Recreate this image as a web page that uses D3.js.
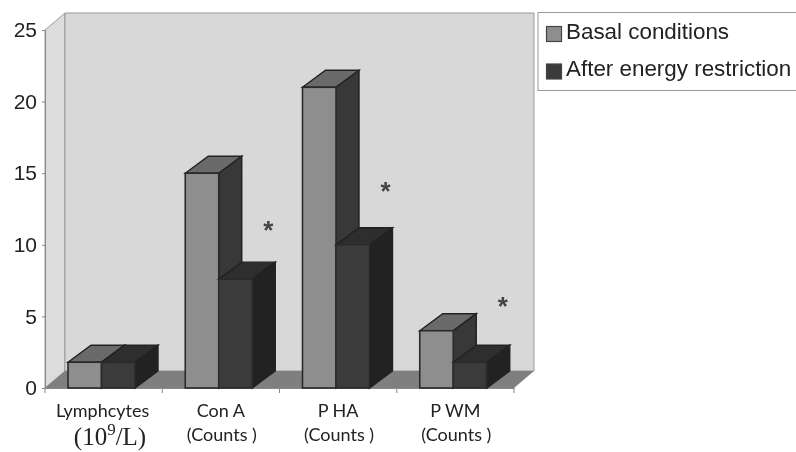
<!DOCTYPE html>
<html>
<head>
<meta charset="utf-8">
<script src="https://cdn.jsdelivr.net/npm/d3@7"></script>
<style>
  html, body { margin: 0; padding: 0; background: #fff; }
  svg { display: block; }
</style>
</head>
<body>
<svg></svg>
<script>
const width = 796;
const height = 452;

const categories = ['Lymphcytes', 'Con A', 'P HA', 'P WM'];
const subLabels = ['', '(Counts )', '(Counts )', '(Counts )'];
const basal = [1.8, 15, 21, 4];
const restricted = [1.8, 7.6, 10, 1.8];
const starValues = [null, 11.1, 13.8, 5.8];
const yTicks = [0, 5, 10, 15, 20, 25];
const seriesNames = ['Basal conditions', 'After energy restriction'];

const svg = d3.select('svg')
  .attr('width', width)
  .attr('height', height);

const defs = svg.append('defs');
defs.append('filter')
  .attr('id', 'scan')
  .append('feGaussianBlur')
  .attr('stdDeviation', 0.55);

const root = svg.append('g').attr('filter', 'url(#scan)');

const x = d3.scaleBand().domain(categories).range([45, 514]);
const y = d3.scaleLinear().domain([0, 25]).range([388, 30]);

// depth of the fake 3d box
const wallDx = 20, wallDy = 17;
const barDx = 23, barDy = 17;
const barWidth = 33.5, barInset = 23;

const poly = pts => pts.map(p => p.join(',')).join(' ');

// back wall and side wall
root.append('polygon')
  .attr('points', poly([[45, y(25)], [45 + wallDx, y(25) - wallDy], [45 + wallDx, y(0) - wallDy], [45, y(0)]]))
  .attr('fill', '#dcdcdc').attr('stroke', '#999').attr('stroke-width', 1);
root.append('polygon')
  .attr('points', poly([[45 + wallDx, y(25) - wallDy], [514 + wallDx, y(25) - wallDy], [514 + wallDx, y(0) - wallDy], [45 + wallDx, y(0) - wallDy]]))
  .attr('fill', '#d8d8d8').attr('stroke', '#999').attr('stroke-width', 1);

// floor
root.append('polygon')
  .attr('points', poly([[45, y(0)], [45 + wallDx, y(0) - wallDy], [514 + wallDx, y(0) - wallDy], [514, y(0)]]))
  .attr('fill', '#7f7f7f');

// axes
const yAxis = d3.axisLeft(y).tickValues(yTicks).tickSize(3).tickPadding(5);
const yG = root.append('g').attr('transform', 'translate(45,0)').call(yAxis);
yG.select('.domain').attr('stroke', '#888');
yG.selectAll('.tick line').attr('stroke', '#888');
yG.selectAll('text')
  .attr('font-family', '"Liberation Sans", Arial, sans-serif')
  .attr('font-size', 21)
  .attr('fill', '#222');

const xAxis = d3.axisBottom(x).tickValues([]).tickSizeOuter(0);
const xG = root.append('g').attr('transform', 'translate(0,388)').call(xAxis);
xG.select('.domain').attr('stroke', '#888');
xG.selectAll('.sep')
  .data(categories.concat(['end']))
  .enter().append('line')
  .attr('class', 'sep')
  .attr('x1', (d, i) => 45 + i * x.bandwidth())
  .attr('x2', (d, i) => 45 + i * x.bandwidth())
  .attr('y1', 0).attr('y2', 5)
  .attr('stroke', '#888');

function drawBar(left, value, front, top, side) {
  const g = root.append('g');
  const t = y(value), b = y(0), r = left + barWidth;
  g.append('polygon')
    .attr('points', poly([[left, t], [left + barDx, t - barDy], [r + barDx, t - barDy], [r, t]]))
    .attr('fill', top).attr('stroke', '#222').attr('stroke-width', 1.4);
  g.append('polygon')
    .attr('points', poly([[r, t], [r + barDx, t - barDy], [r + barDx, b - barDy], [r, b]]))
    .attr('fill', side).attr('stroke', '#222').attr('stroke-width', 1.4);
  g.append('rect')
    .attr('x', left).attr('y', t).attr('width', barWidth).attr('height', b - t)
    .attr('fill', front).attr('stroke', '#2b2b2b').attr('stroke-width', 1.6);
}

categories.forEach((c, i) => {
  const left = x(c) + barInset;
  drawBar(left, basal[i], '#8e8e8e', '#6a6a6a', '#383838');
  drawBar(left + barWidth, restricted[i], '#3a3a3a', '#2d2d2d', '#242424');
});

// significance stars
root.selectAll('.star')
  .data(categories.filter((c, i) => starValues[i] !== null))
  .enter().append('text')
  .attr('class', 'star')
  .attr('x', c => x(c) + 106)
  .attr('y', c => y(starValues[categories.indexOf(c)]) + 10)
  .attr('text-anchor', 'middle')
  .attr('font-family', '"Liberation Sans", Arial, sans-serif')
  .attr('font-size', 26)
  .attr('font-weight', 'bold')
  .attr('fill', '#444')
  .text('*');

// category labels
root.selectAll('.cat')
  .data(categories)
  .enter().append('text')
  .attr('class', 'cat')
  .attr('x', c => x(c) + x.bandwidth() / 2 + (c === 'Lymphcytes' ? -1 : 0))
  .attr('y', 417)
  .attr('text-anchor', 'middle')
  .attr('font-family', 'Lato, sans-serif')
  .attr('font-size', 18)
  .attr('fill', '#222')
  .text(c => c);

root.selectAll('.sub')
  .data(categories.filter((c, i) => subLabels[i]))
  .enter().append('text')
  .attr('class', 'sub')
  .attr('x', c => x(c) + x.bandwidth() / 2 + 1)
  .attr('y', 441)
  .attr('text-anchor', 'middle')
  .attr('font-family', 'Lato, sans-serif')
  .attr('font-size', 18)
  .attr('fill', '#222')
  .text(c => subLabels[categories.indexOf(c)]);

const unit = root.append('text')
  .attr('x', 110)
  .attr('y', 445)
  .attr('text-anchor', 'middle')
  .attr('font-family', '"Liberation Serif", serif')
  .attr('font-size', 25)
  .attr('fill', '#222');
unit.append('tspan').text('(10');
unit.append('tspan').attr('dy', -10).attr('font-size', 17).text('9');
unit.append('tspan').attr('dy', 10).text('/L)');

// legend
root.append('rect')
  .attr('x', 538).attr('y', 12.5).attr('width', 262).attr('height', 78)
  .attr('fill', '#fff').attr('stroke', '#999').attr('stroke-width', 1);

const legendColors = ['#8e8e8e', '#3a3a3a'];
const legendY = d3.scalePoint().domain(seriesNames).range([34, 71.5]);
const legend = root.selectAll('.leg')
  .data(seriesNames)
  .enter().append('g')
  .attr('class', 'leg')
  .attr('transform', d => `translate(0,${legendY(d)})`);
legend.append('rect')
  .attr('x', 546.5).attr('y', -7.5).attr('width', 15).attr('height', 15)
  .attr('fill', (d, i) => legendColors[i])
  .attr('stroke', '#444').attr('stroke-width', 1.2);
legend.append('text')
  .attr('x', 566).attr('y', 4.5)
  .attr('font-family', '"Liberation Sans", Arial, sans-serif')
  .attr('font-size', 22.4)
  .attr('fill', '#222')
  .text(d => d);
</script>
</body>
</html>
